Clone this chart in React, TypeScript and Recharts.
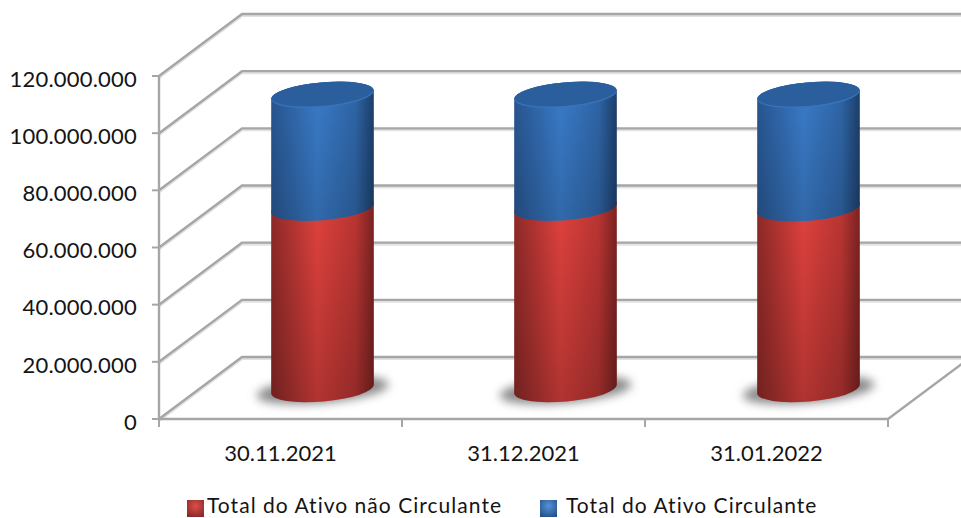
import React from 'react';
import { BarChart, Bar, XAxis, YAxis, CartesianGrid, Legend } from 'recharts';

const categories = ['30.11.2021', '31.12.2021', '31.01.2022'];
const naoCirculante = [63400000, 63400000, 63200000];
const circulante = [39500000, 39500000, 39700000];
const yTicks = [0, 20000000, 40000000, 60000000, 80000000, 100000000, 120000000];

const seriesNames = ['Total do Ativo não Circulante', 'Total do Ativo Circulante'];

const data = categories.map((name, i) => ({
  name,
  naoCirculante: naoCirculante[i],
  circulante: circulante[i],
}));

// fake 3d depth of the floor, in px
const DEPTH_X = 83;
const DEPTH_Y = 62;
const FONT = 'Lato, sans-serif';
const TEXT = '#141414';
const LINE = '#a6a6a6';

const formatTick = (v: number) => String(v).replace(/\B(?=(\d{3})+(?!\d))/g, '.');

// grid line = front edge -> back wall -> along the wall
function wallLine(props: any) {
  const { x1, x2, y1, key, index } = props;
  const d = `M${x1},${y1} L${x1 + DEPTH_X},${y1 - DEPTH_Y} L${x2 + DEPTH_X},${y1 - DEPTH_Y}`;
  const isFloor = Math.abs(y1 - 419) < 1;
  return (
    <g key={key ?? index}>
      <path d={d} transform="translate(0,1.5)" fill="none" stroke="#e2e2e2" strokeWidth={3} />
      <path d={d} fill="none" stroke={LINE} strokeWidth={2.4} />
      {isFloor && (
        <path d={`M${x2},${y1} L${x2 + DEPTH_X},${y1 - DEPTH_Y}`} fill="none" stroke={LINE} strokeWidth={2.4} />
      )}
    </g>
  );
}

function CategoryTick(props: any) {
  const { x, y, payload, index } = props;
  const band = 243;
  return (
    <g>
      <line x1={x - band / 2} x2={x - band / 2} y1={y - 14} y2={y - 6} stroke={LINE} strokeWidth={2} />
      {index === categories.length - 1 && (
        <line x1={x + band / 2} x2={x + band / 2} y1={y - 14} y2={y - 6} stroke={LINE} strokeWidth={2} />
      )}
      <text x={x} y={y + 28} textAnchor="middle" fill={TEXT} fontSize={22} fontFamily={FONT}>
        {payload.value}
      </text>
    </g>
  );
}

const A = 51.5;
const B = 12.5;
const ROT = -5;
const dx = A * Math.cos((ROT * Math.PI) / 180);
const dy = A * Math.sin((ROT * Math.PI) / 180);

function Cylinder(props: any) {
  const { x, y, width, height, side, shade, cap, rim, isBase, isTop } = props;
  const cx = x + width / 2 + DEPTH_X / 2;
  const top = y - 30;
  const bottom = y + height - 30;
  const body =
    `M${cx - dx},${top - dy} L${cx - dx},${bottom - dy} ` +
    `A${A},${B} ${ROT} 0 0 ${cx + dx},${bottom + dy} L${cx + dx},${top + dy} ` +
    `A${A},${B} ${ROT} 0 0 ${cx - dx},${top - dy} Z`;
  return (
    <g>
      {isBase && (
        <ellipse cx={cx} cy={bottom + 1} rx={66} ry={13} transform={`rotate(${ROT} ${cx} ${bottom})`} fill="#8a8a8a" filter="url(#floorShadow)" />
      )}
      <path d={body} fill={`url(#${side})`} />
      <path d={body} fill={`url(#${shade})`} />
      {isTop && (
        <>
          <ellipse cx={cx} cy={top} rx={A} ry={B} transform={`rotate(${ROT} ${cx} ${top})`} fill={rim} />
          <ellipse cx={cx} cy={top - 0.8} rx={A - 0.5} ry={B - 0.8} transform={`rotate(${ROT} ${cx} ${top})`} fill={cap} />
        </>
      )}
    </g>
  );
}

function LegendIcon({ fill, gap }: { fill: string; gap: number }) {
  return (
    <svg width={17} height={17} style={{ marginRight: gap, flex: 'none', position: 'relative', top: 3 }}>
      <rect x={0} y={0} width={17} height={17} fill={`url(#${fill})`} />
    </svg>
  );
}

function LegendRow() {
  const item = { position: 'absolute', top: 2, height: 18, display: 'flex', alignItems: 'center', whiteSpace: 'nowrap', lineHeight: '18px' } as const;
  return (
    <div style={{ position: 'relative', height: 24, fontFamily: FONT, fontSize: 21, color: TEXT, letterSpacing: 1.03 }}>
      <span style={{ ...item, left: 187 }}>
        <LegendIcon fill="redSquare" gap={3} />
        {seriesNames[0]}
      </span>
      <span style={{ ...item, left: 540 }}>
        <LegendIcon fill="blueSquare" gap={9} />
        {seriesNames[1]}
      </span>
    </div>
  );
}

export default function App() {
  return (
    <div style={{ position: 'absolute', left: 0, top: 0, width: 961, height: 518, background: '#fff', overflow: 'hidden' }}>
      <BarChart
        width={961}
        height={518}
        data={data}
        barSize={102}
        margin={{ top: 76, right: 73, bottom: 0, left: 0 }}
      >
        <defs>
          <linearGradient id="redSide" x1="0" y1="0" x2="1" y2="0">
            <stop offset="0%" stopColor="#8f2a28" />
            <stop offset="45%" stopColor="#e2423e" />
            <stop offset="82%" stopColor="#bc3633" />
            <stop offset="100%" stopColor="#7c2321" />
          </linearGradient>
          <linearGradient id="blueSide" x1="0" y1="0" x2="1" y2="0">
            <stop offset="0%" stopColor="#285691" />
            <stop offset="45%" stopColor="#3a7cca" />
            <stop offset="82%" stopColor="#2f66a8" />
            <stop offset="100%" stopColor="#1d3f6b" />
          </linearGradient>
          <linearGradient id="redShade" x1="0" y1="0" x2="0" y2="1">
            <stop offset="0%" stopColor="#000" stopOpacity={0} />
            <stop offset="100%" stopColor="#000" stopOpacity={0.22} />
          </linearGradient>
          <linearGradient id="blueShade" x1="0" y1="0" x2="0" y2="1">
            <stop offset="0%" stopColor="#000" stopOpacity={0} />
            <stop offset="100%" stopColor="#000" stopOpacity={0.16} />
          </linearGradient>
          <radialGradient id="redSquare" cx="50%" cy="35%" r="70%">
            <stop offset="0%" stopColor="#dc4f4b" />
            <stop offset="100%" stopColor="#8a2826" />
          </radialGradient>
          <radialGradient id="blueSquare" cx="50%" cy="35%" r="70%">
            <stop offset="0%" stopColor="#5592d8" />
            <stop offset="100%" stopColor="#25528c" />
          </radialGradient>
          <filter id="floorShadow" x="-30%" y="-60%" width="160%" height="220%">
            <feGaussianBlur stdDeviation="5" />
          </filter>
        </defs>
        <CartesianGrid vertical={false} horizontal={wallLine} />
        <XAxis
          dataKey="name"
          height={75}
          axisLine={{ stroke: LINE, strokeWidth: 2.4 }}
          tickLine={false}
          tick={<CategoryTick />}
          tickMargin={8}
          interval={0}
        />
        <YAxis
          width={159}
          domain={[0, 120000000]}
          ticks={yTicks}
          tickFormatter={formatTick}
          axisLine={{ stroke: LINE, strokeWidth: 2.4 }}
          tickLine={{ stroke: LINE, strokeWidth: 2 }}
          tickSize={7}
          tickMargin={15}
          tick={{ fill: TEXT, fontSize: 22, fontFamily: FONT, letterSpacing: 0.2, dy: 3 }}
        />
        <Legend content={<LegendRow />} verticalAlign="bottom" />
        <Bar
          dataKey="naoCirculante"
          name={seriesNames[0]}
          stackId="total"
          isAnimationActive={false}
          shape={(p: any) => <Cylinder {...p} side="redSide" shade="redShade" isBase />}
        />
        <Bar
          dataKey="circulante"
          name={seriesNames[1]}
          stackId="total"
          isAnimationActive={false}
          shape={(p: any) => <Cylinder {...p} side="blueSide" shade="blueShade" cap="#2b5e9d" rim="#3a74b8" isTop />}
        />
      </BarChart>
    </div>
  );
}
